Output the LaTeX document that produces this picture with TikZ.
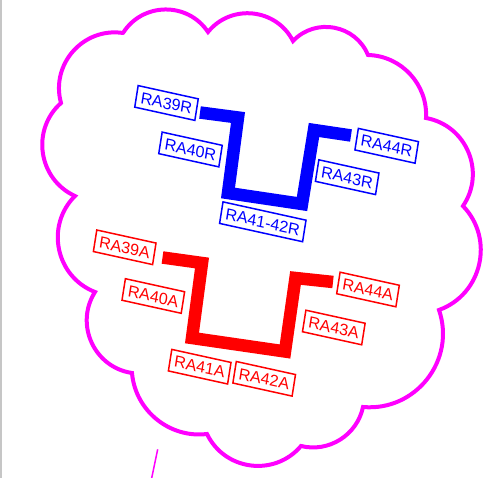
\documentclass[tikz,border=0pt]{standalone}
\usepackage{fontspec}
\setmainfont{Liberation Sans}
\usepackage{xcolor}
\usetikzlibrary{positioning}
\definecolor{cloudpink}{RGB}{255,0,255}
\definecolor{tagblue}{RGB}{0,0,255}
\definecolor{tagred}{RGB}{255,0,0}
\tikzset{
  tag/.style={draw, line width=1.5pt, font=\fontsize{16.2}{17}\selectfont, inner xsep=4.6pt, inner ysep=5pt, text height=11.8pt, text depth=0pt, rotate=-9, yslant=-0.06},
  rtag/.style={tag, draw=tagblue, text=tagblue},
  atag/.style={tag, draw=tagred, text=tagred},
  bar/.style={line width=12.5pt, line join=miter},
  puff/.style={bend left=57, looseness=1.1},
  flatpuff/.style={bend left=46},
}

\begin{document}
\begin{tikzpicture}[x=1pt,y=1pt]
  \useasboundingbox (0,0) rectangle (499,-478);
  \draw[gray!45, line width=1.5pt] (1,0) -- (1,-478);

  \coordinate (c1) at (123,-33);
  \coordinate (c2) at (208,-32);
  \coordinate (c3) at (293,-41);
  \coordinate (c4) at (368,-55);
  \coordinate (c5) at (426,-118);
  \coordinate (c6) at (463,-206);
  \coordinate (c7) at (439,-310);
  \coordinate (c8) at (363,-407);
  \coordinate (c9) at (301,-446);
  \coordinate (c10) at (207,-434);
  \coordinate (c11) at (132,-373);
  \coordinate (c12) at (95,-292);
  \coordinate (c13) at (75,-196);
  \coordinate (c14) at (61,-103);
  \draw[cloudpink, line width=4pt, line cap=round]
    (c1) to[puff] (c2) to[puff] (c3) to[puff] (c4) to[flatpuff] (c5)
    to[puff] (c6) to[puff] (c7) to[puff] (c8) to[flatpuff] (c9)
    to[puff] (c10) to[flatpuff] (c11) to[puff] (c12) to[puff] (c13)
    to[puff] (c14) to[puff] (c1);
  \coordinate (tail) at (157.7,-449.3);
  \coordinate (tailend) at (151.7,-478);
  \draw[cloudpink, line width=1.5pt] (tail) -- (tailend);

  \draw[bar, tagblue] (200,-112.5) -- (238,-117.5) -- (228,-193) -- (302,-204) -- (314,-130) -- (351,-135.5);
  \draw[bar, tagred] (162.5,-257.5) -- (202,-263) -- (192,-338) -- (285,-351.5) -- (295.5,-278) -- (333,-282);

  \node[rtag] (r39) at (166.5,-103) {RA39R};
  \node[rtag] (r40) at (190.5,-149.5) {RA40R};
  \node[rtag] (r4142) at (262.8,-221.8) {RA41-42R};
  \node[rtag] (r43) at (347.2,-177.2) {RA43R};
  \node[rtag] (r44) at (386.7,-145.8) {RA44R};

  \node[atag] (a39) at (124.7,-247.3) {RA39A};
  \node[atag] (a40) at (153.3,-296) {RA40A};
  \node[atag] (a41) at (199.7,-366.7) {RA41A};
  \node[atag] (a42) at (264.2,-378.8) {RA42A};
  \node[atag] (a43) at (333.8,-327.5) {RA43A};
  \node[atag] (a44) at (368,-289.5) {RA44A};
\end{tikzpicture}
\end{document}
